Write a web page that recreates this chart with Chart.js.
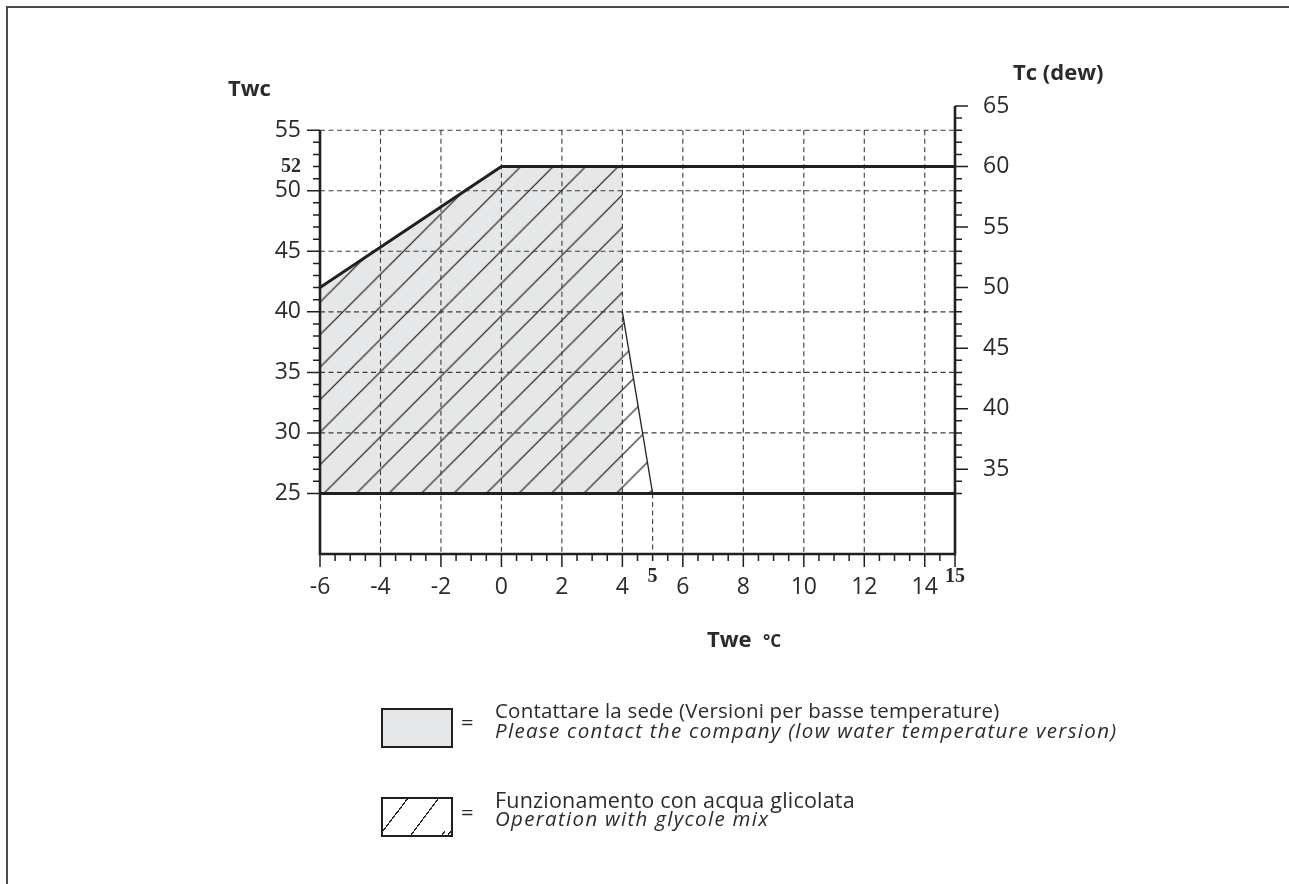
<!DOCTYPE html>
<html lang="it">
<head>
<meta charset="utf-8">
<title>Limiti di funzionamento</title>
<script src="https://cdn.jsdelivr.net/npm/chart.js@4.4.1/dist/chart.umd.min.js"></script>
<style>
  html, body { margin: 0; padding: 0; background: #fff; }
  #page { position: relative; width: 1289px; height: 884px; overflow: hidden; font-family: "Open Sans", sans-serif; color: #2b2b2b; }
  #sheet { position: absolute; left: 6px; top: 6px; right: -10px; bottom: -10px; border-top: 2px solid #4a4a4a; border-left: 2px solid #4a4a4a; }
  #chartBox { position: absolute; left: 0; top: 0; width: 1289px; height: 884px; }
  .key { position: absolute; left: 381px; width: 860px; height: 44px; }
  .swatch { position: absolute; left: 0; top: 0; width: 68px; height: 36px; border: 2px solid #231f20; }
  .swatch.grey { background: #e6e7e8; }
  .swatch.hatch { background: repeating-linear-gradient(127deg, transparent 0 23.5px, #222 23.5px 24.7px); background-position: -6px 0; }
  .eq { position: absolute; left: 80px; top: 1px; font-size: 22px; line-height: 24px; }
  .txt { position: absolute; left: 114px; top: -8px; font-size: 20.5px; line-height: 20px; white-space: nowrap; letter-spacing: 0.2px; }
  .txt i { display: block; letter-spacing: 1.3px; }
  .txt.second { top: -7px; font-size: 21.5px; line-height: 19px; }
  .txt.second i { font-size: 20.5px; }
</style>
</head>
<body>
<div id="page">
  <div id="sheet"></div>
  <div id="chartBox"><canvas id="envelopeChart"></canvas></div>

  <div class="key" style="top:708px">
    <div class="swatch grey"></div>
    <div class="eq">=</div>
    <div class="txt">Contattare la sede (Versioni per basse temperature)<i>Please contact the company (low water temperature version)</i></div>
  </div>
  <div class="key" style="top:797px">
    <div class="swatch hatch"></div>
    <div class="eq" style="top:2px">=</div>
    <div class="txt second">Funzionamento con acqua glicolata<i>Operation with glycole mix</i></div>
  </div>
</div>

<script>
// Twe = evaporator water (°C) on x, Twc = condenser water (°C) on the left, Tc dew on the right
const tweTicks = [-6, -4, -2, 0, 2, 4, 5, 6, 8, 10, 12, 14, 15];
const twcTicks = [25, 30, 35, 40, 45, 50, 52, 55];
const tcTicks = [35, 40, 45, 50, 55, 60, 65];
const boldTwe = [5, 15];
const boldTwc = [52];

const tweGrid = [-4, -2, 0, 2, 4, 6, 8, 10, 12, 14];
const twcGrid = [30, 35, 40, 45, 50, 55];

// operating limits
const limitTwe = [-6, 0, 15];
const limitTwc = [42, 52, 52];
const minTwe = [-6, 15];
const minTwc = [25, 25];

// low water temperature versions (grey)
const contactTwe = [-6, 0, 4];
const contactTwc = [42, 52, 52];

// glycol mix (hatched)
const glycolTwe = [-6, 0, 4, 4, 5];
const glycolTwc = [42, 52, 52, 40, 25];
const glycolEdgeTwe = [4, 5];
const glycolEdgeTwc = [40, 25];

const TWE_MIN = -6, TWE_MAX = 15;
const TWC_MIN = 20, TWC_MAX = 57, TWC_TOP = 55;
const TC_OFFSET = 8;   // Tc dew = Twc + 8

const INK = '#231f20';
const TEXT = '#2b2b2b';
const GRID = '#3c3c3c';
const TICK_FONT = { family: '"Open Sans", sans-serif', size: 23, weight: '400' };
const BOLD_FONT = { family: '"Liberation Serif", serif', size: 20, weight: 'bold', lineHeight: '6px' };

const pts = (xs, ys) => xs.map((x, i) => ({ x, y: ys[i] }));

function hatchPattern() {
  const size = 32;
  const tile = document.createElement('canvas');
  tile.width = tile.height = size;
  const c = tile.getContext('2d');
  c.strokeStyle = '#111';
  c.lineWidth = 1.1;
  c.beginPath();
  c.moveTo(-2, size + 2); c.lineTo(size + 2, -2);
  c.moveTo(-2, 2); c.lineTo(2, -2);
  c.moveTo(size - 2, size + 2); c.lineTo(size + 2, size - 2);
  c.stroke();
  const p = c.createPattern(tile, 'repeat');
  p.setTransform(new DOMMatrix().translate(4.7, 0).scale(32.5 / size));
  return p;
}

function drawGrid(chart) {
  const { ctx, scales: { x, y } } = chart;
  ctx.save();
  ctx.setLineDash([5, 3.5]);
  ctx.lineWidth = 1.1;
  ctx.strokeStyle = GRID;
  ctx.beginPath();
  twcGrid.forEach(v => {
    const py = y.getPixelForValue(v);
    ctx.moveTo(x.left, py); ctx.lineTo(x.right, py);
  });
  tweGrid.forEach(v => {
    const px = x.getPixelForValue(v);
    ctx.moveTo(px, y.getPixelForValue(TWC_TOP)); ctx.lineTo(px, y.getPixelForValue(TWC_MIN));
  });
  // guide under the end of the glycol band
  const p5 = x.getPixelForValue(5);
  ctx.moveTo(p5, y.getPixelForValue(25)); ctx.lineTo(p5, y.getPixelForValue(TWC_MIN));
  ctx.stroke();
  ctx.restore();
}

function drawAxes(chart) {
  const { ctx, scales: { x, y, y2 } } = chart;
  const left = x.getPixelForValue(TWE_MIN);
  const right = x.getPixelForValue(TWE_MAX);
  const bottom = y.getPixelForValue(TWC_MIN);
  ctx.save();
  ctx.strokeStyle = INK;
  ctx.lineWidth = 2.6;
  ctx.beginPath();
  ctx.moveTo(left, y.getPixelForValue(TWC_TOP));
  ctx.lineTo(left, bottom);
  ctx.lineTo(right, bottom);
  ctx.lineTo(right, y2.getPixelForValue(TWC_MAX + TC_OFFSET));
  ctx.stroke();

  ctx.lineWidth = 1.5;
  ctx.beginPath();
  for (let v = 25; v <= TWC_TOP; v++) {
    const py = y.getPixelForValue(v);
    ctx.moveTo(left, py); ctx.lineTo(left - (v % 5 ? 7 : 13), py);
  }
  for (let v = 33; v <= TWC_MAX + TC_OFFSET; v++) {
    const py = y2.getPixelForValue(v);
    ctx.moveTo(right, py); ctx.lineTo(right + (v % 5 ? 7 : 13), py);
  }
  for (let v = TWE_MIN; v <= TWE_MAX; v += 0.5) {
    const px = x.getPixelForValue(v);
    const major = v % 2 === 0 || v === TWE_MAX;
    ctx.moveTo(px, bottom); ctx.lineTo(px, bottom + (major ? 13 : 7));
  }
  ctx.stroke();

  // axis titles
  ctx.fillStyle = TEXT;
  ctx.textBaseline = 'alphabetic';
  ctx.font = 'bold 22px "Open Sans", sans-serif';
  ctx.fillText('Twc', left - 92, 96);
  ctx.fillText('Tc (dew)', right + 58, 80);
  ctx.fillText('Twe', 707, 647);
  ctx.font = 'bold 17px "Open Sans", sans-serif';
  ctx.fillText('°C', 763, 647);
  ctx.restore();
}

const framePlugin = {
  id: 'frame',
  afterDatasetDraw(chart, args) {
    if (chart.data.datasets[args.index].label === 'glycol') drawGrid(chart);
  },
  afterDraw(chart) {
    drawAxes(chart);
  }
};

const fixSize = (prop, size) => scale => { scale[prop] = size; };

new Chart(document.getElementById('envelopeChart'), {
  type: 'line',
  data: {
    datasets: [
      { label: 'limit', data: pts(limitTwe, limitTwc), borderColor: INK, borderWidth: 3, fill: false, order: 0 },
      { label: 'min', data: pts(minTwe, minTwc), borderColor: INK, borderWidth: 3, fill: false, order: 0 },
      { label: 'glycol edge', data: pts(glycolEdgeTwe, glycolEdgeTwc), borderColor: INK, borderWidth: 1.3, fill: false, order: 0 },
      { label: 'glycol', data: pts(glycolTwe, glycolTwc), borderColor: 'rgba(0,0,0,0)', borderWidth: 0,
        backgroundColor: hatchPattern(), fill: { value: 25 }, order: 1 },
      { label: 'contact', data: pts(contactTwe, contactTwc), borderColor: 'rgba(0,0,0,0)', borderWidth: 0,
        backgroundColor: '#e6e7e8', fill: { value: 25 }, order: 2 }
    ]
  },
  options: {
    responsive: true,
    maintainAspectRatio: false,
    animation: false,
    layout: { padding: { left: 240, right: 254, top: 106, bottom: 230 } },
    elements: { point: { radius: 0, hoverRadius: 0 }, line: { tension: 0 } },
    plugins: { legend: { display: false }, tooltip: { enabled: false } },
    events: [],
    scales: {
      x: {
        type: 'linear', min: TWE_MIN, max: TWE_MAX,
        afterBuildTicks: s => { s.ticks = tweTicks.map(value => ({ value })); },
        afterFit: fixSize('height', 100),
        grid: { display: false, drawTicks: false },
        border: { display: false },
        ticks: {
          autoSkip: false, maxRotation: 0, padding: 20, color: TEXT,
          callback: v => String(v),
          font: c => (c.tick && boldTwe.includes(c.tick.value)) ? BOLD_FONT : TICK_FONT
        }
      },
      y: {
        type: 'linear', position: 'left', min: TWC_MIN, max: TWC_MAX,
        afterBuildTicks: s => { s.ticks = twcTicks.map(value => ({ value })); },
        afterFit: fixSize('width', 80),
        grid: { display: false, drawTicks: false },
        border: { display: false },
        ticks: {
          padding: 19, color: TEXT,
          callback: v => String(v),
          font: c => (c.tick && boldTwc.includes(c.tick.value)) ? BOLD_FONT : TICK_FONT
        }
      },
      y2: {
        type: 'linear', position: 'right', min: TWC_MIN + TC_OFFSET, max: TWC_MAX + TC_OFFSET,
        afterBuildTicks: s => { s.ticks = tcTicks.map(value => ({ value })); },
        afterFit: fixSize('width', 80),
        grid: { display: false, drawTicks: false },
        border: { display: false },
        ticks: { padding: 28, color: TEXT, callback: v => String(v), font: TICK_FONT }
      }
    }
  },
  plugins: [framePlugin]
});
</script>
</body>
</html>
